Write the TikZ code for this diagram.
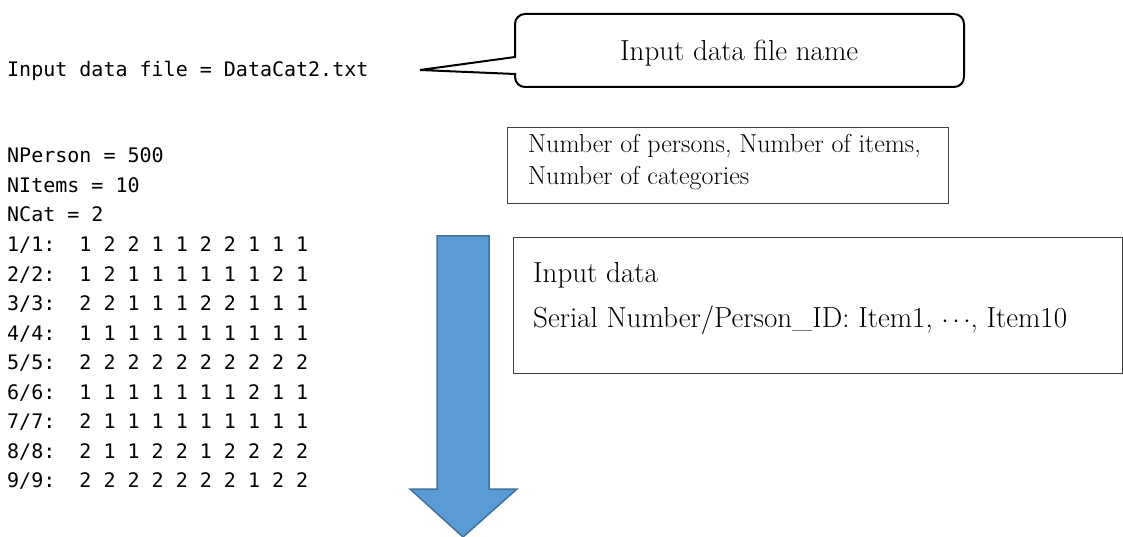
\documentclass[tikz,border=0pt]{standalone}
\usepackage{fontspec}
\newfontfamily\codefont{DejaVu Sans Mono}

\definecolor{arrowblue}{HTML}{5B9BD5}
\definecolor{arrowedge}{HTML}{41719C}
\definecolor{boxedge}{HTML}{404040}

\begin{document}
\begin{tikzpicture}[x=1pt, y=-1pt,
    code/.style={font=\codefont\fontsize{20}{24}\selectfont, anchor=base west, inner sep=0pt},
    note/.style={font=\fontsize{29}{34}\selectfont, anchor=base west, inner sep=0pt},
    small note/.style={font=\fontsize{26}{30}\selectfont, anchor=base west, inner sep=0pt},
    frame/.style={draw=boxedge, line width=1pt, anchor=north west, inner sep=0pt}]

    \useasboundingbox (0,0) rectangle (1123,537);

    % Program echo of the input (left column)
    \node[code] (infile) at (7,77) {Input data file = DataCat2.txt};
    \node[code] (nperson) at (7,163) {NPerson = 500};
    \node[code] (nitems) at (7,192.5) {NItems = 10};
    \node[code] (ncat) at (7,222) {NCat = 2};
    \node[code] (row1) at (7,251.5) {1/1:\ \ 1 2 2 1 1 2 2 1 1 1};
    \node[code] (row2) at (7,281) {2/2:\ \ 1 2 1 1 1 1 1 1 2 1};
    \node[code] (row3) at (7,310.5) {3/3:\ \ 2 2 1 1 1 2 2 1 1 1};
    \node[code] (row4) at (7,340) {4/4:\ \ 1 1 1 1 1 1 1 1 1 1};
    \node[code] (row5) at (7,369.5) {5/5:\ \ 2 2 2 2 2 2 2 2 2 2};
    \node[code] (row6) at (7,399) {6/6:\ \ 1 1 1 1 1 1 1 2 1 1};
    \node[code] (row7) at (7,428.5) {7/7:\ \ 2 1 1 1 1 1 1 1 1 1};
    \node[code] (row8) at (7,458) {8/8:\ \ 2 1 1 2 2 1 2 2 2 2};
    \node[code] (row9) at (7,487.5) {9/9:\ \ 2 2 2 2 2 2 2 1 2 2};

    % Callout naming the file
    \coordinate (tip) at (420,70);
    \draw[line width=2pt] (515,57) -- (515,24) arc[start angle=180, end angle=270, radius=10]
        -- (954,14) arc[start angle=270, end angle=360, radius=10]
        -- (964,77) arc[start angle=0, end angle=90, radius=10]
        -- (525,87) arc[start angle=90, end angle=180, radius=10]
        -- (515,74) -- (tip) -- cycle;
    \node[note] (fname) at (620,61) {Input data file name};

    % Box for the three counts
    \node[frame, minimum width=441pt, minimum height=76pt] (countbox) at (507,127) {};
    \node[small note] (counts1) at (528,153) {Number of persons, Number of items,};
    \node[small note] (counts2) at (528,185) {Number of categories};

    % Box for the data lines
    \node[frame, minimum width=609pt, minimum height=136pt] (databox) at (513,237) {};
    \node[note] (datahead) at (533,282) {Input data};
    \node[note] (dataline) at (533,327) {Serial Number/Person\_ID: Item1, $\cdots$, Item10};

    % Block arrow going down
    \draw[draw=arrowedge, fill=arrowblue, line width=1.5pt]
        (437,236) -- (489,236) -- (489,489) -- (517,489) -- (463,537)
        -- (410,489) -- (437,489) -- cycle;
\end{tikzpicture}
\end{document}
